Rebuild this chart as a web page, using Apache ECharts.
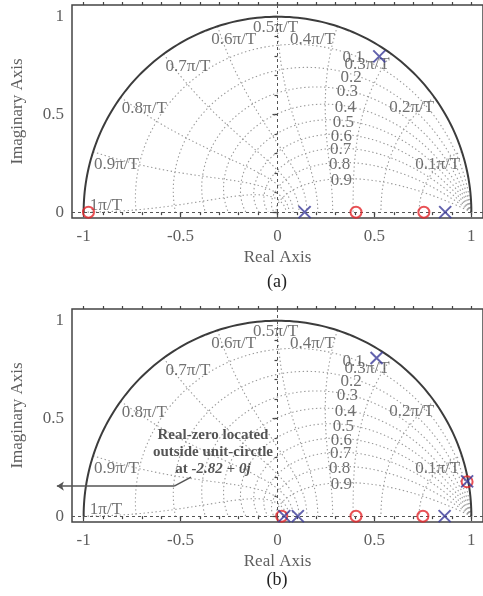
<!DOCTYPE html>
<html>
<head>
<meta charset="utf-8">
<script src="https://cdn.jsdelivr.net/npm/echarts@6/dist/echarts.min.js"></script>
<style>
  html, body { margin: 0; padding: 0; background: #fff; }
  #main { width: 483px; height: 596px; }
</style>
</head>
<body>
<div id="main"></div>
<script>
// zgrid settings
var zetas = [0.1, 0.2, 0.3, 0.4, 0.5, 0.6, 0.7, 0.8, 0.9];
var wnFactors = [0.1, 0.2, 0.3, 0.4, 0.5, 0.6, 0.7, 0.8, 0.9, 1];
var wnLabels = ['0.1π/T', '0.2π/T', '0.3π/T', '0.4π/T', '0.5π/T', '0.6π/T', '0.7π/T', '0.8π/T', '0.9π/T', '1π/T'];
var wnLabelPos = [[0.826, 0.246], [0.692, 0.533], [0.462, 0.754], [0.18, 0.882], [-0.01, 0.944],
                  [-0.226, 0.882], [-0.462, 0.744], [-0.687, 0.528], [-0.831, 0.246], [-0.885, 0.036]];
var zetaLabels = ['0.1', '0.2', '0.3', '0.4', '0.5', '0.6', '0.7', '0.8', '0.9'];
var zetaLabelPos = [[0.39, 0.79], [0.38, 0.69], [0.36, 0.615], [0.35, 0.533], [0.34, 0.46],
                    [0.33, 0.385], [0.325, 0.318], [0.32, 0.246], [0.33, 0.164]];

// poles / zeros
var zerosA = [[-0.975, 0], [0.405, 0], [0.755, 0]];
var polesA = [[0.14, 0], [0.865, 0], [0.525, 0.797]];
var zerosB = [[0.022, 0], [0.405, 0], [0.75, 0], [0.978, 0.176]];
var polesB = [[0.035, 0], [0.105, 0], [0.862, 0], [0.511, 0.809], [0.978, 0.178]];

// annotation in (b)
var noteB = 'Real-zero located\noutside unit-circtle\nat {i|-2.82 + 0j}';
var notePos = [-0.333, 0.328];
var arrowLead = [[-0.446, 0.2], [-0.533, 0.154]];
var arrowMain = [[-0.533, 0.154], [-1.138, 0.154]];

// ticks
var xMajor = [-1, -0.5, 0, 0.5, 1];
var xMinor = [-1, -0.9, -0.8, -0.7, -0.6, -0.5, -0.4, -0.3, -0.2, -0.1, 0, 0.1, 0.2, 0.3, 0.4, 0.5, 0.6, 0.7, 0.8, 0.9, 1];
var yMajor = [0, 0.5, 1];
var yMinor = [0, 0.1, 0.2, 0.3, 0.4, 0.5, 0.6, 0.7, 0.8, 0.9, 1];

var serif = '"Liberation Serif", "DejaVu Serif", serif';
var XMIN = -1.06, XMAX = 1.06, YMIN = -0.03, YMAX = 1.06;

function dampingCurve(z) {
    var pts = [], a = z / Math.sqrt(1 - z * z);
    for (var i = 0; i <= 150; i++) {
        var th = Math.PI * i / 150, r = Math.exp(-a * th);
        pts.push([r * Math.cos(th), r * Math.sin(th)]);
    }
    return pts;
}
function freqCurve(k) {
    var pts = [], wn = k * Math.PI;
    for (var i = 0; i <= 80; i++) {
        var t = Math.PI / 2 * i / 80;
        var r = Math.exp(-Math.sin(t) * wn), th = wn * Math.cos(t);
        pts.push([r * Math.cos(th), r * Math.sin(th)]);
    }
    return pts;
}

var grids = [
    { left: 72, top: 5, width: 413, height: 213 },
    { left: 72, top: 309, width: 413, height: 213 }
];

var tickStyle = { color: '#444', width: 1.2 };
var labelStyle = { fontFamily: serif, fontSize: 17, color: '#5e5e5e' };

var xAxes = [], yAxes = [], series = [];
grids.forEach(function (g, gi) {
    g.show = true;
    g.borderColor = '#444';
    g.borderWidth = 1.5;
    g.backgroundColor = 'transparent';
    var base = { gridIndex: gi, type: 'value', min: XMIN, max: XMAX, axisLine: { show: false },
                 splitLine: { show: false } };
    xAxes.push(Object.assign({}, base, {
        position: 'bottom', name: 'Real Axis', nameLocation: 'middle', nameGap: 31,
        nameTextStyle: labelStyle,
        axisTick: { customValues: xMajor, length: 5, lineStyle: tickStyle },
        axisLabel: Object.assign({ customValues: xMajor, margin: 10 }, labelStyle)
    }));
    xAxes.push(Object.assign({}, base, {
        position: 'bottom', axisLabel: { show: false },
        axisTick: { customValues: xMinor, length: 3, lineStyle: tickStyle }
    }));
    xAxes.push(Object.assign({}, base, {
        position: 'top', axisLabel: { show: false },
        axisTick: { customValues: xMinor, length: 3, lineStyle: tickStyle }
    }));
    var ybase = { gridIndex: gi, type: 'value', min: YMIN, max: YMAX, position: 'left',
                  axisLine: { show: false }, splitLine: { show: false } };
    yAxes.push(Object.assign({}, ybase, {
        name: 'Imaginary Axis', nameLocation: 'middle', nameGap: 46, nameTextStyle: labelStyle,
        axisTick: { customValues: yMajor, length: 5, lineStyle: tickStyle },
        axisLabel: Object.assign({ customValues: yMajor, margin: 8 }, labelStyle)
    }));
    yAxes.push(Object.assign({}, ybase, {
        axisLabel: { show: false },
        axisTick: { customValues: yMinor, length: 3, lineStyle: tickStyle }
    }));

    var xi = gi * 3, yi = gi * 2;
    var dotted = { color: '#9a9a9a', width: 1.1, type: [1.4, 2.6] };

    // damping curves
    zetas.forEach(function (z, i) {
        series.push({ type: 'line', xAxisIndex: xi, yAxisIndex: yi, data: dampingCurve(z),
            showSymbol: false, silent: true, lineStyle: dotted, z: 1,
            markLine: i === 0 ? {
                silent: true, symbol: 'none', label: { show: false },
                lineStyle: { color: '#555', width: 1, type: [3, 3] },
                data: [{ xAxis: 0 }, { yAxis: 0 }]
            } : undefined
        });
    });
    // natural frequency curves
    wnFactors.forEach(function (k) {
        series.push({ type: 'line', xAxisIndex: xi, yAxisIndex: yi, data: freqCurve(k),
            showSymbol: false, silent: true, lineStyle: dotted, z: 1 });
    });
    // unit circle
    series.push({ type: 'line', xAxisIndex: xi, yAxisIndex: yi, data: dampingCurve(0),
        showSymbol: false, silent: true, z: 2, lineStyle: { color: '#3c3c3c', width: 2 } });

    // grid labels
    var lab = [];
    wnLabels.forEach(function (t, i) { lab.push({ name: t, value: wnLabelPos[i] }); });
    zetaLabels.forEach(function (t, i) { lab.push({ name: t, value: zetaLabelPos[i] }); });
    series.push({ type: 'scatter', xAxisIndex: xi, yAxisIndex: yi, data: lab, symbolSize: 1,
        silent: true, z: 3, itemStyle: { color: 'rgba(0,0,0,0)' },
        label: { show: true, position: 'inside', formatter: '{b}', fontFamily: serif,
                 fontSize: 17, color: '#4e4e4e' } });

    var zs = gi === 0 ? zerosA : zerosB;
    var ps = gi === 0 ? polesA : polesB;
    series.push({ type: 'scatter', xAxisIndex: xi, yAxisIndex: yi, data: zs, symbol: 'circle',
        symbolSize: 11, silent: true, z: 5,
        itemStyle: { color: 'transparent', borderColor: '#e3262b', borderWidth: 2 } });
    series.push({ type: 'scatter', xAxisIndex: xi, yAxisIndex: yi, data: ps,
        symbol: 'path://M0,0L10,10M10,0L0,10', symbolSize: 12, silent: true, z: 6,
        itemStyle: { color: 'transparent', borderColor: '#3b3b98', borderWidth: 2 } });

    if (gi === 1) {
        series.push({ type: 'scatter', xAxisIndex: xi, yAxisIndex: yi,
            data: [{ name: noteB, value: notePos }], symbolSize: 1, silent: true, z: 7,
            itemStyle: { color: 'rgba(0,0,0,0)' },
            label: { show: true, position: 'inside', formatter: '{b}', fontFamily: serif,
                     fontSize: 15, fontWeight: 'bold', color: '#2a2a2a', lineHeight: 17, align: 'center',
                     rich: { i: { fontFamily: serif, fontSize: 15, fontWeight: 'bold', fontStyle: 'italic',
                                  color: '#2a2a2a' } } } });
        series.push({ type: 'lines', coordinateSystem: 'cartesian2d', xAxisIndex: xi, yAxisIndex: yi,
            clip: false, silent: true, symbol: ['none', 'none'], z: 7,
            lineStyle: { color: '#555', width: 1.5, opacity: 1 }, data: [{ coords: arrowLead }] });
        series.push({ type: 'lines', coordinateSystem: 'cartesian2d', xAxisIndex: xi, yAxisIndex: yi,
            clip: false, silent: true, symbol: ['none', 'arrow'], symbolSize: 7, z: 7,
            lineStyle: { color: '#555', width: 1.5, opacity: 1 }, data: [{ coords: arrowMain }] });
    }
});

var myChart = echarts.init(document.getElementById('main'));
myChart.setOption({
    animation: false,
    backgroundColor: '#fff',
    grid: grids,
    xAxis: xAxes,
    yAxis: yAxes,
    series: series,
    graphic: [
        { type: 'text', x: 277, y: 282, style: { text: '(a)', align: 'center', verticalAlign: 'middle',
          fontFamily: serif, fontSize: 18, fill: '#222' } },
        { type: 'text', x: 277, y: 580, style: { text: '(b)', align: 'center', verticalAlign: 'middle',
          fontFamily: serif, fontSize: 18, fill: '#222' } }
    ]
});
</script>
</body>
</html>
